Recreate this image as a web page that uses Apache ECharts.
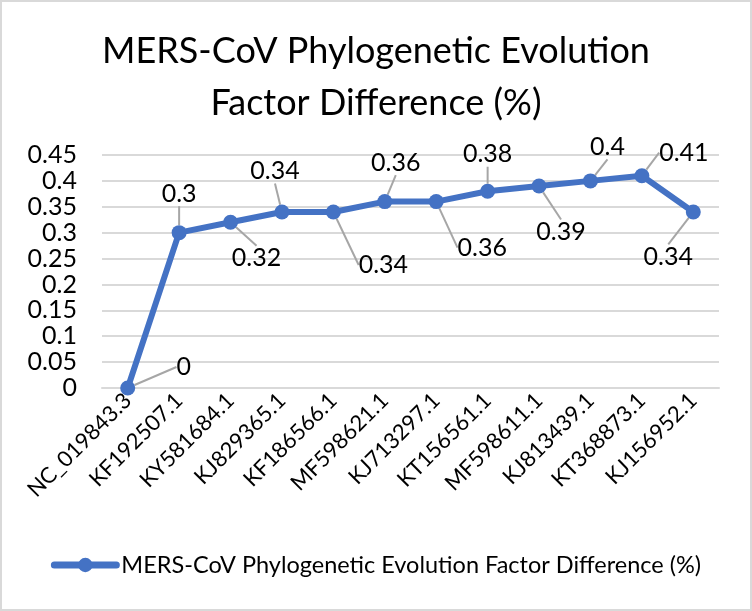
<!DOCTYPE html>
<html>
<head>
<meta charset="utf-8">
<script src="https://cdn.jsdelivr.net/npm/echarts@6/dist/echarts.min.js"></script>
<style>
html,body{margin:0;padding:0;background:#fff;}
#wrap{width:752px;height:611px;box-sizing:border-box;border:2px solid #d9d9d9;position:relative;}
#chart{position:absolute;left:-2px;top:-2px;width:752px;height:611px;}
</style>
</head>
<body>
<div id="wrap"><div id="chart"></div></div>
<script>
const titleText = 'MERS-CoV Phylogenetic Evolution\nFactor Difference (%)';
const seriesName = 'MERS-CoV Phylogenetic Evolution Factor Difference (%)';
const categories = ['NC_019843.3','KF192507.1','KY581684.1','KJ829365.1','KF186566.1','MF598621.1','KJ713297.1','KT156561.1','MF598611.1','KJ813439.1','KT368873.1','KJ156952.1'];
const values = [0, 0.3, 0.32, 0.34, 0.34, 0.36, 0.36, 0.38, 0.39, 0.4, 0.41, 0.34];
const yTicks = [0, 0.05, 0.1, 0.15, 0.2, 0.25, 0.3, 0.35, 0.4, 0.45];
// label offsets (layout only): [dx, dy] from the point
const labelOffsets = [[56,-21],[0,-39],[26,36],[-7,-41],[50,53],[11,-39],[46,46],[0,-37],[22,46],[17,-34],[42,-23],[-25,45]];

const FONT = 'Lato';
const chart = echarts.init(document.getElementById('chart'), null, {renderer:'canvas'});
chart.setOption({
  animation: false,
  backgroundColor: 'transparent',
  title: {
    text: titleText,
    left: 'center',
    top: 20,
    textStyle: {fontFamily: FONT, fontSize: 36, fontWeight: 'normal', color: '#000', lineHeight: 52}
  },
  grid: {left: 102, right: 33, top: 155, bottom: 223, containLabel: false},
  legend: {
    bottom: 29,
    left: 'center',
    itemWidth: 62,
    itemHeight: 18,
    itemGap: 4,
    lineStyle: {width: 7, cap: 'round'},
    textStyle: {fontFamily: FONT, fontSize: 23.5, color: '#000'},
    data: [seriesName]
  },
  xAxis: {
    type: 'category',
    data: categories,
    boundaryGap: true,
    axisLine: {show: true, lineStyle: {color: '#d9d9d9', width: 2}},
    axisTick: {show: false},
    axisLabel: {rotate: 45, margin: 9, fontFamily: FONT, fontSize: 22, color: '#000', interval: 0}
  },
  yAxis: {
    type: 'value',
    min: 0, max: 0.45, interval: 0.05,
    axisLine: {show: false},
    axisTick: {show: false},
    splitLine: {lineStyle: {color: '#d9d9d9', width: 2}},
    axisLabel: {
      margin: 25, fontFamily: FONT, fontSize: 25, color: '#000',
      formatter: function (v) {
        const t = yTicks.find(function (x) { return Math.abs(x - v) < 1e-9; });
        return t === undefined ? '' : String(t);
      }
    }
  },
  series: [{
    name: seriesName,
    type: 'line',
    data: values,
    symbol: 'circle',
    symbolSize: 15,
    lineStyle: {color: '#4472c4', width: 6},
    itemStyle: {color: '#4472c4'},
    label: {
      show: true,
      position: 'inside',
      fontFamily: FONT, fontSize: 25, color: '#000'
    },
    labelLine: {show: true, lineStyle: {color: '#a6a6a6', width: 2}},
    labelLayout: function (params) {
      const o = labelOffsets[params.dataIndex];
      return {dx: o[0], dy: o[1]};
    }
  }]
});
</script>
</body>
</html>
